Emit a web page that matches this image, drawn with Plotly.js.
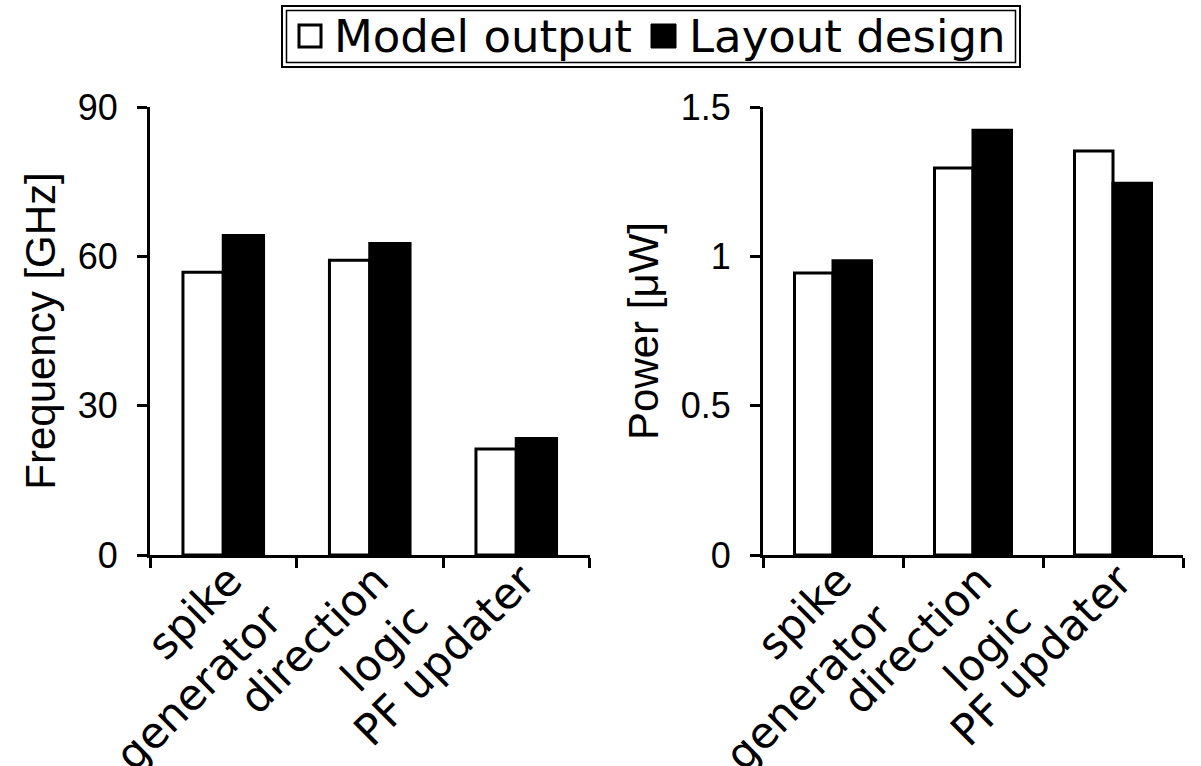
<!DOCTYPE html>
<html>
<head>
<meta charset="utf-8">
<script src="https://cdn.plot.ly/plotly-3.0.1.min.js"></script>
<style>html,body{margin:0;padding:0;background:#fff;}#chart{width:1201px;height:766px;}</style>
</head>
<body>
<div id="chart"></div>
<script>
// Data
const categories = ["spike<br>generator", "direction<br>logic", "PF updater"];
const seriesNames = ["Model output", "Layout design"];
const freqModel = [56.8, 59.2, 21.3];
const freqLayout = [64.2, 62.6, 23.4];
const powerModel = [0.944, 1.296, 1.353];
const powerLayout = [0.985, 1.422, 1.245];
const freqTicks = [0, 30, 60, 90];
const powerTicks = [0, 0.5, 1, 1.5];

const W = 1201, H = 766;
const px = v => v / W;
const py = v => 1 - v / H;

const lineW = 3;
const modelStyle = {color: "#ffffff", line: {color: "#000000", width: lineW}};
const layoutStyle = {color: "#000000", line: {color: "#000000", width: lineW}};

const traces = [
  {type: "bar", x: categories, y: freqModel, name: seriesNames[0], marker: modelStyle, xaxis: "x", yaxis: "y", showlegend: false, hoverinfo: "y"},
  {type: "bar", x: categories, y: freqLayout, name: seriesNames[1], marker: layoutStyle, xaxis: "x", yaxis: "y", showlegend: false, hoverinfo: "y"},
  {type: "bar", x: categories, y: powerModel, name: seriesNames[0], marker: modelStyle, xaxis: "x2", yaxis: "y2", showlegend: false, hoverinfo: "y"},
  {type: "bar", x: categories, y: powerLayout, name: seriesNames[1], marker: layoutStyle, xaxis: "x2", yaxis: "y2", showlegend: false, hoverinfo: "y"}
];

const tickFontNum = {family: "Liberation Sans, Arial, sans-serif", size: 36, color: "#000"};
const tickFontCat = {family: "DejaVu Sans, Verdana, sans-serif", size: 43, color: "#000"};
const titleFont = {family: "Liberation Sans, Arial, sans-serif", size: 42, color: "#000"};
const legendFont = {family: "DejaVu Sans, Verdana, sans-serif", size: 45, color: "#000"};

const xCommon = {
  type: "category", showline: true, linewidth: lineW, linecolor: "#000",
  ticks: "outside", ticklen: 10, tickwidth: lineW, tickcolor: "#000",
  tickson: "boundaries", tickangle: -45, tickfont: tickFontCat,
  ticklabelstandoff: -20, ticklabelshift: 6,
  showgrid: false, zeroline: false, fixedrange: true
};
const yCommon = {
  showline: true, linewidth: lineW, linecolor: "#000",
  ticks: "outside", ticklen: 10, tickwidth: lineW, tickcolor: "#000",
  tickfont: tickFontNum, ticklabelstandoff: 12,
  showgrid: false, zeroline: false, fixedrange: true
};

const yTop = py(107), yBot = py(555);

// Legend (drawn as boxes + text so the symbols match the reference size)
const legendShapes = [
  {type: "rect", xref: "paper", yref: "paper", x0: px(282), x1: px(1020), y0: py(67), y1: py(6), line: {color: "#000", width: 2}, fillcolor: "rgba(0,0,0,0)", layer: "above"},
  {type: "rect", xref: "paper", yref: "paper", x0: px(286.5), x1: px(1015.5), y0: py(62.5), y1: py(10.5), line: {color: "#000", width: 1.5}, fillcolor: "rgba(0,0,0,0)", layer: "above"},
  {type: "rect", xref: "paper", yref: "paper", x0: px(299), x1: px(321), y0: py(47), y1: py(25), line: {color: "#000", width: 3}, fillcolor: "#fff", layer: "above"},
  {type: "rect", xref: "paper", yref: "paper", x0: px(651), x1: px(676), y0: py(48), y1: py(24), line: {color: "#000", width: 1}, fillcolor: "#000", layer: "above"}
];
const legendAnnotations = [
  {xref: "paper", yref: "paper", x: px(332), y: py(37), xanchor: "left", yanchor: "middle", text: seriesNames[0], showarrow: false, font: legendFont},
  {xref: "paper", yref: "paper", x: px(687), y: py(37), xanchor: "left", yanchor: "middle", text: seriesNames[1], showarrow: false, font: legendFont}
];

const layout = {
  width: W, height: H,
  margin: {l: 0, r: 0, t: 0, b: 0},
  paper_bgcolor: "#fff", plot_bgcolor: "#fff",
  barmode: "group", bargap: 0.45, bargroupgap: 0,
  showlegend: false,
  shapes: legendShapes,
  annotations: legendAnnotations,
  xaxis: Object.assign({}, xCommon, {domain: [px(150), px(589.5)], anchor: "y"}),
  xaxis2: Object.assign({}, xCommon, {domain: [px(763), px(1183)], anchor: "y2"}),
  yaxis: Object.assign({}, yCommon, {
    domain: [yBot, yTop], anchor: "x", range: [0, 90],
    tickvals: freqTicks, ticktext: freqTicks.map(String),
    title: {text: "Frequency [GHz]", font: titleFont, standoff: 10}
  }),
  yaxis2: Object.assign({}, yCommon, {
    domain: [yBot, yTop], anchor: "x2", range: [0, 1.5],
    tickvals: powerTicks, ticktext: powerTicks.map(String),
    title: {text: "Power [μW]", font: titleFont, standoff: 10}
  })
};

Plotly.newPlot("chart", traces, layout, {displayModeBar: false, staticPlot: true});
</script>
</body>
</html>
